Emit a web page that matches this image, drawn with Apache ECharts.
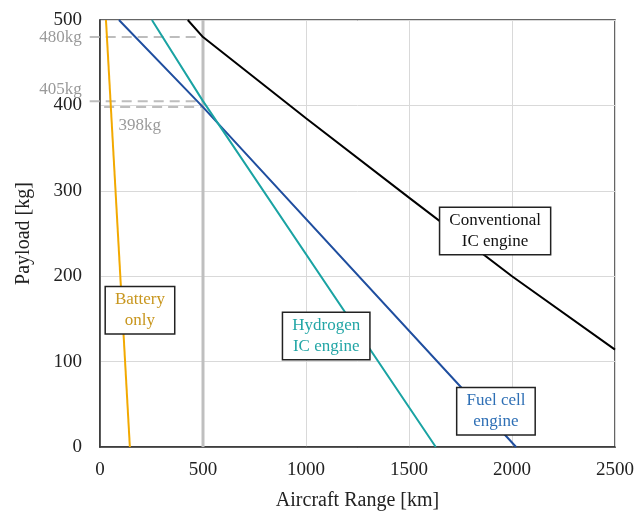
<!DOCTYPE html>
<html><head><meta charset="utf-8">
<script src="https://cdn.jsdelivr.net/npm/echarts@6/dist/echarts.min.js"></script>
<style>html,body{margin:0;padding:0;background:#fff}#c{width:636px;height:512px}</style>
</head><body><div id="c"></div>
<script>
// Data (range km, payload kg)
const batteryOnly = [[29,500],[145,0]];
const fuelCell = [[92,500],[500,398],[2020,0]];
const hydrogenIC = [[252,500],[500,405],[1630,0]];
const conventionalIC = [[426,500],[500,480],[1000,385],[1500,292],[2000,200],[2500,114]];
const refRange = 500;
const refPayloads = [480,405,398];
const refLabels = ['480kg','405kg','398kg'];
const seriesLabels = [
  {name:'Conventional\nIC engine', at:[1918,253]},
  {name:'Battery\nonly', at:[194,160]},
  {name:'Hydrogen\nIC engine', at:[1098,130]},
  {name:'Fuel cell\nengine', at:[1922,42]}
];
const xTicks = {min:0,max:2500,interval:500};
const yTicks = {min:0,max:500,interval:100};
const dashMin = -50; // guide lines reach a little left of the y axis

const serif = '"Liberation Serif","DejaVu Serif",serif';
const colors = {battery:'#F2A900', fuel:'#1F4E9F', hydrogen:'#1AA3A3', conv:'#000000'};
const textColors = ['#111', '#C8961E', '#23A6A6', '#2E6FB5'];

const chart = echarts.init(document.getElementById('c'));
const W = 636, gl = 100, gr = 21;
const plotW = W - gl - gr;
const gl2 = gl + dashMin * plotW / (xTicks.max - xTicks.min);

const line = (name,data,color) => ({name,type:'line',data,symbol:'none',
  lineStyle:{color,width:2},itemStyle:{color},z:5,animation:false});

const boxSeries = seriesLabels.map((s,i)=>({
  type:'scatter', data:[s.at], symbolSize:0, z:10, animation:false, silent:true,
  itemStyle:{opacity:1},
  label:{show:true, position:'inside', formatter:s.name, fontFamily:serif, fontSize:17,
    color:textColors[i], lineHeight:21, align:'center', verticalAlign:'middle', opacity:1,
    backgroundColor:'#fff', borderColor:'#222', borderWidth:1.5, padding:[2,9,2,9]}
}));

const dashStarts = [dashMin,dashMin,20];
const dashSeries = refPayloads.map((p,i)=>({
  type:'line', xAxisIndex:1, yAxisIndex:1, data:[[dashStarts[i],p],[refRange,p]], symbol:'none', z:4,
  animation:false, silent:true,
  lineStyle:{color:'#BDBDBD', width:2, type:[10,6]}
}));

const annoPos = [[-50,480],[-50,419],[90,376]];
const annoSeries = refLabels.map((t,i)=>({
  type:'scatter', data:[annoPos[i]], symbolSize:0, clip:false, silent:true, animation:false,
  itemStyle:{opacity:1},
  label:{show:true, formatter:t, position: i===2?'right':'left', distance: i===2?0:8,
    fontFamily:serif, fontSize:17, color:'#9A9A9A', opacity:1}
}));

chart.setOption({
  animation:false,
  grid:[
    {left:gl,right:gr,top:20,bottom:65,show:true,borderColor:'#333',borderWidth:1.5,
     backgroundColor:'transparent',containLabel:false,outerBoundsMode:'none'},
    {left:gl2,right:gr,top:20,bottom:65,show:false,containLabel:false,outerBoundsMode:'none'}
  ],
  xAxis:[{type:'value',min:xTicks.min,max:xTicks.max,interval:xTicks.interval,
    name:'Aircraft Range [km]',nameLocation:'middle',nameGap:44,
    nameTextStyle:{fontFamily:serif,fontSize:20,color:'#222'},
    axisLine:{show:true,lineStyle:{color:'#333',width:1.5}},axisTick:{show:false},
    axisLabel:{fontFamily:serif,fontSize:19,color:'#222',margin:14,formatter:v=>String(v)},
    splitLine:{show:true,lineStyle:{color:'#D9D9D9',width:1}}},
    {type:'value',gridIndex:1,min:dashMin,max:xTicks.max,show:false}],
  yAxis:[{type:'value',min:yTicks.min,max:yTicks.max,interval:yTicks.interval,
    name:'Payload [kg]',nameLocation:'middle',nameGap:66,
    nameTextStyle:{fontFamily:serif,fontSize:20,color:'#222'},
    axisLine:{show:true,lineStyle:{color:'#333',width:1.5}},axisTick:{show:false},
    axisLabel:{fontFamily:serif,fontSize:19,color:'#222',margin:18,formatter:v=>String(v)},
    splitLine:{show:true,lineStyle:{color:'#D9D9D9',width:1}}},
    {type:'value',gridIndex:1,min:yTicks.min,max:yTicks.max,show:false}],
  series:[
    {type:'line',data:[[refRange,0],[refRange,500]],symbol:'none',z:3,silent:true,animation:false,
      lineStyle:{color:'#BFBFBF',width:3}},
    ...dashSeries,
    line('Battery only',batteryOnly,colors.battery),
    line('Fuel cell engine',fuelCell,colors.fuel),
    line('Hydrogen IC engine',hydrogenIC,colors.hydrogen),
    line('Conventional IC engine',conventionalIC,colors.conv),
    ...annoSeries,
    ...boxSeries
  ]
});
</script></body></html>
